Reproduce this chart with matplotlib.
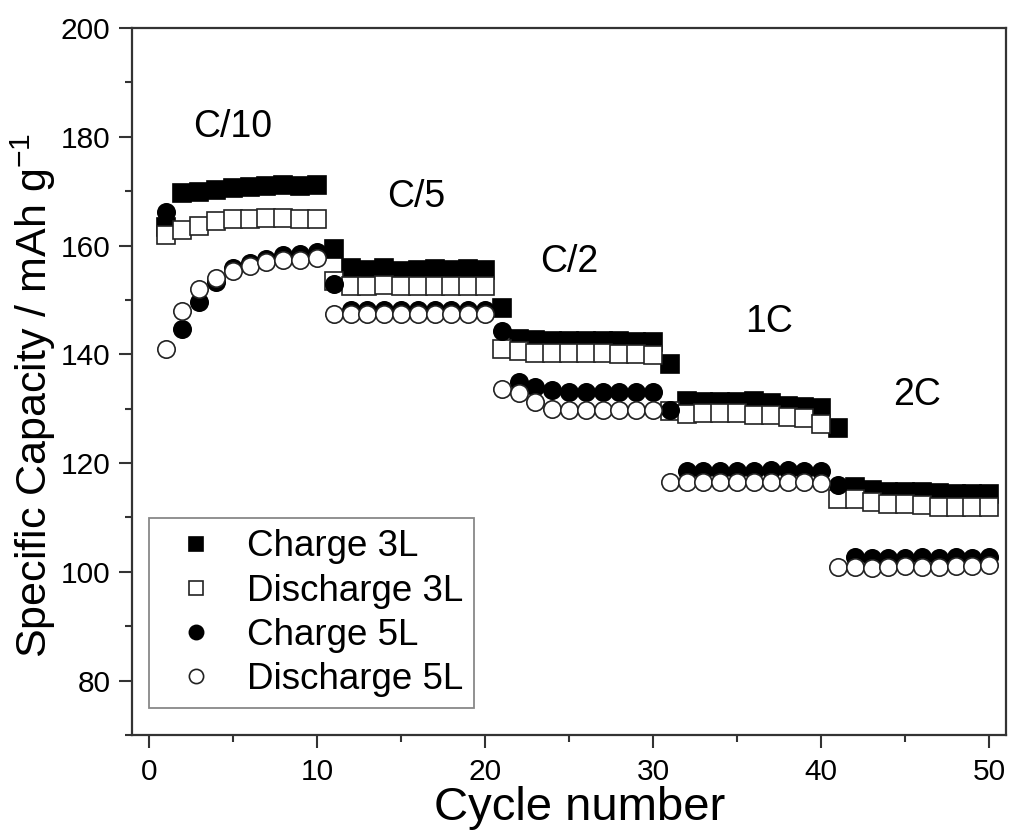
import matplotlib as mpl
mpl.use('Agg')
import matplotlib.pyplot as plt
from matplotlib.ticker import MultipleLocator

plt.rcParams['font.family'] = ['Liberation Sans', 'DejaVu Sans']
plt.rcParams['mathtext.default'] = 'regular'

cycles = list(range(1, 51))

charge_3L = [163.5,
             169.6, 169.9, 170.3, 170.6, 170.8, 170.9, 171.2, 170.9, 171.1,
             159.4,
             155.8, 155.5, 155.8, 155.3, 155.5, 155.6, 155.5, 155.6, 155.5,
             148.5,
             142.9, 142.6, 142.5, 142.4, 142.4, 142.4, 142.4, 142.3, 142.2,
             138.3,
             131.4, 131.2, 131.2, 131.2, 131.4, 131.0, 130.5, 130.4, 130.2,
             126.4,
             115.6, 115.1, 114.7, 114.7, 114.7, 114.5, 114.3, 114.3, 114.4]

discharge_3L = [161.9,
                162.8, 163.6, 164.5, 164.8, 164.8, 165.1, 165.1, 164.8, 164.8,
                153.5,
                152.6, 152.6, 152.7, 152.6, 152.6, 152.6, 152.6, 152.6, 152.6,
                141.0,
                140.7, 140.2, 140.2, 140.2, 140.2, 140.2, 140.1, 140.1, 139.8,
                129.5,
                129.1, 129.2, 129.2, 129.2, 128.9, 128.8, 128.5, 128.2, 127.2,
                113.4,
                113.4, 112.8, 112.4, 112.4, 112.3, 112.0, 111.9, 111.9, 112.0]

charge_5L = [166.2,
             144.7, 149.6, 153.3, 155.8, 156.7, 157.6, 158.2, 158.5, 158.8,
             152.9,
             148.2, 148.2, 148.2, 148.2, 148.2, 148.2, 148.2, 148.2, 148.2,
             144.2,
             134.9, 134.0, 133.4, 133.1, 133.1, 133.1, 133.1, 133.1, 133.1,
             129.7,
             118.6, 118.6, 118.6, 118.6, 118.6, 118.7, 118.8, 118.6, 118.6,
             115.9,
             102.7, 102.5, 102.6, 102.6, 102.7, 102.5, 102.7, 102.6, 102.8]

discharge_5L = [141.0,
                148.0, 152.1, 154.1, 155.3, 156.3, 157.0, 157.4, 157.4, 157.8,
                147.4,
                147.4, 147.4, 147.4, 147.4, 147.4, 147.4, 147.4, 147.4, 147.4,
                133.7,
                132.8, 131.2, 130.0, 129.7, 129.7, 129.7, 129.7, 129.7, 129.7,
                116.5,
                116.5, 116.5, 116.5, 116.5, 116.5, 116.5, 116.5, 116.5, 116.3,
                100.9,
                100.9, 100.7, 100.9, 101.0, 100.8, 100.9, 101.0, 101.0, 101.2]

rate_labels = ['C/10', 'C/5', 'C/2', '1C', '2C']

fig = plt.figure(figsize=(10.09, 8.32), dpi=100)
ax = fig.add_axes([132 / 1009, 1 - 735 / 832, 874 / 1009, 707 / 832])

ms = 12.5
mew = 1.2
ax.plot(cycles, charge_3L, 's', ms=ms, mfc='k', mec='k', mew=mew, label='Charge 3L')
ax.plot(cycles, discharge_3L, 's', ms=ms, mfc='white', mec='#222222', mew=mew, label='Discharge 3L')
ax.plot(cycles, charge_5L, 'o', ms=ms, mfc='k', mec='k', mew=mew, label='Charge 5L')
ax.plot(cycles, discharge_5L, 'o', ms=ms, mfc='white', mec='#222222', mew=mew, label='Discharge 5L')

# rate labels above each block of 10 cycles
label_pos = [(5.0, 181.8), (15.9, 168.9), (25.0, 156.9), (36.9, 145.9), (45.7, 132.5)]
for txt, (x, y) in zip(rate_labels, label_pos):
    ax.text(x, y, txt, fontsize=27, ha='center', va='center')

ax.set_xlim(-1, 51)
ax.set_ylim(70, 200)
ax.xaxis.set_major_locator(MultipleLocator(10))
ax.xaxis.set_minor_locator(MultipleLocator(5))
ax.yaxis.set_minor_locator(MultipleLocator(10))
ax.set_yticks([80, 100, 120, 140, 160, 180, 200])

ax.tick_params(which='both', direction='out', top=False, right=False, width=1.5, color='#333333')
ax.tick_params(which='major', length=9.5, labelsize=21.5)
ax.tick_params(axis='x', which='major', pad=7)
ax.tick_params(axis='y', which='major', pad=6)
ax.tick_params(which='minor', length=5)
for sp in ax.spines.values():
    sp.set_linewidth(1.6)
    sp.set_color('#333333')

ax.set_xlabel('Cycle number', fontsize=34)
ax.set_ylabel('Specific Capacity / mAh g$^{-1}$', fontsize=31)
ax.xaxis.set_label_coords(0.512, -0.072)
ax.yaxis.set_label_coords(-0.085, 0.48)

leg = ax.legend(loc='lower left', bbox_to_anchor=(0.02, 0.038), borderaxespad=0,
                fontsize=26.5, markerscale=0.82, handlelength=1.95, handletextpad=0.4,
                labelspacing=0.25, borderpad=0.3, fancybox=False, framealpha=1)
leg.get_frame().set_edgecolor('#888888')
leg.get_frame().set_linewidth(1.3)

plt.savefig('out.png', dpi=100)
plt.close()
